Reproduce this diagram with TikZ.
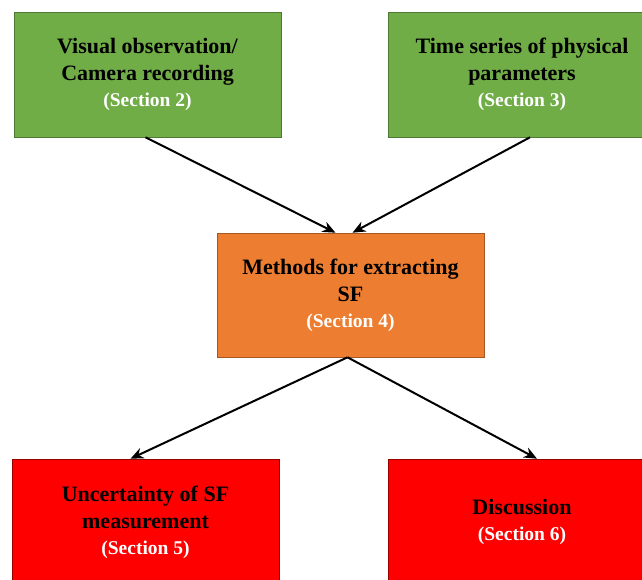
\documentclass[tikz,border=0pt]{standalone}
\usepackage{fontspec}
\setmainfont{Liberation Serif}
\usetikzlibrary{arrows.meta}
\definecolor{boxgreen}{HTML}{70AD47}
\definecolor{boxorange}{HTML}{ED7D31}
\definecolor{boxred}{HTML}{FF0000}
\newcommand{\secref}[1]{\\[-1pt]{\fontsize{19.5}{24}\selectfont\color{white}(Section #1)}}
\begin{document}
\begin{tikzpicture}[x=1pt,y=-1pt,font=\fontsize{22}{27}\selectfont\bfseries,
  box/.style={rectangle, align=center, inner sep=0pt, line width=0.6pt},
  greenbox/.style={box, fill=boxgreen, draw=boxgreen!70!black},
  orangebox/.style={box, fill=boxorange, draw=boxorange!70!black},
  redbox/.style={box, fill=boxred, draw=boxred!60!black},
  arr/.style={-{Stealth[length=13pt,width=11pt]}, line width=2pt}]
  \useasboundingbox (0,0) rectangle (642,579);
  \clip (0,0) rectangle (642,579);
  \node[greenbox, minimum width=267, minimum height=125] (visual) at (147.5,74.5)
    {Visual observation/\\Camera recording\secref{2}};
  \node[greenbox, minimum width=268, minimum height=125] (series) at (522,74.5)
    {Time series of physical\\parameters\secref{3}};
  \node[orangebox, minimum width=267, minimum height=124] (methods) at (350.5,295)
    {Methods for extracting\\SF\secref{4}};
  \node[redbox, minimum width=267, minimum height=126] (uncert) at (145.5,522)
    {Uncertainty of SF\\measurement\secref{5}};
  \node[redbox, minimum width=268, minimum height=126] (discuss) at (522,522)
    {Discussion\secref{6}};
  \draw[arr] ([xshift=-2pt]visual.south) -- ([xshift=-15pt]methods.north);
  \draw[arr] ([xshift=8pt]series.south) -- ([xshift=2pt]methods.north);
  \draw[arr] ([xshift=-3pt]methods.south) -- ([xshift=-15pt]uncert.north);
  \draw[arr] ([xshift=-3pt]methods.south) -- ([xshift=15pt]discuss.north);
\end{tikzpicture}
\end{document}
